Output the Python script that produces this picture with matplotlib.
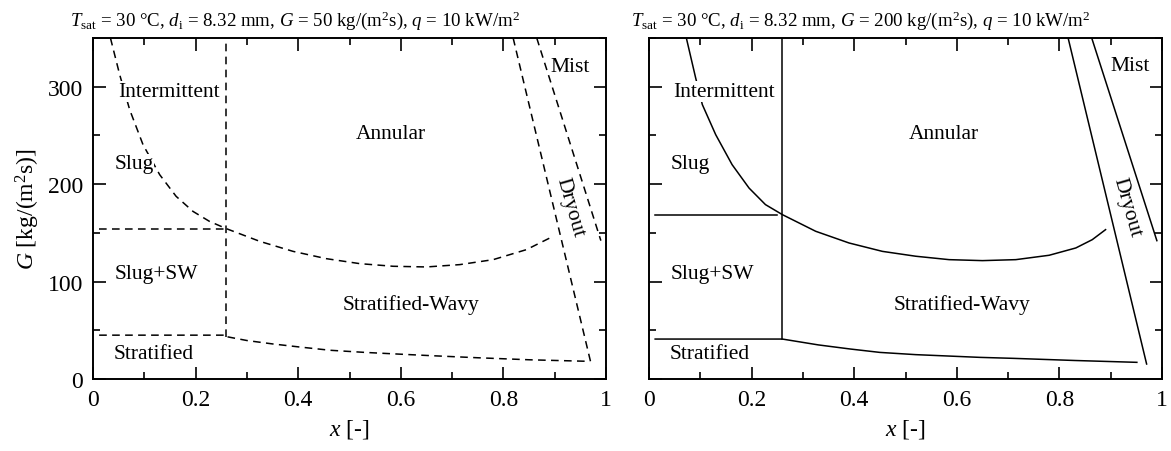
import matplotlib
matplotlib.use("Agg")
import matplotlib.pyplot as plt
from matplotlib.ticker import MultipleLocator

plt.rcParams['font.family'] = ['Liberation Serif', 'DejaVu Serif']
plt.rcParams['mathtext.fontset'] = 'custom'
plt.rcParams['mathtext.rm'] = 'Liberation Serif'
plt.rcParams['mathtext.it'] = 'Liberation Serif:italic'
plt.rcParams['mathtext.bf'] = 'Liberation Serif:bold'

# ---------------- data ----------------
titles = [r"$T_{\rm sat}$ = 30 °C, $d_{\rm i}$ = 8.32 mm, $G$ = 50 kg/(m$^2$s), $q$ = 10 kW/m$^2$",
          r"$T_{\rm sat}$ = 30 °C, $d_{\rm i}$ = 8.32 mm, $G$ = 200 kg/(m$^2$s), $q$ = 10 kW/m$^2$"]

# left panel (G = 50 kg/(m2 s)), dashed boundaries
L_ann_x = [0.034, 0.052, 0.0715, 0.0975, 0.130, 0.162, 0.195, 0.227, 0.260, 0.325, 0.390,
           0.455, 0.520, 0.585, 0.650, 0.715, 0.780, 0.845, 0.893]
L_ann_y = [350, 312.4, 276.4, 240.5, 209.7, 187.5, 172, 161.8, 154.3, 141.3, 131,
           123.5, 118.4, 115.7, 115, 117.4, 122.5, 132.8, 145.4]
L_strat_x = [0.012, 0.26, 0.26, 0.30, 0.35, 0.40, 0.462, 0.53, 0.598, 0.657, 0.75, 0.852, 0.969]
L_strat_y = [45, 45, 43.5, 39.5, 36, 33, 29.5, 27.3, 25.5, 24, 21.8, 19.7, 18.1]
L_slug_x = [0.012, 0.26]
L_slug_y = [153.5, 153.5]
L_vert_x = [0.26, 0.26]
L_vert_y = [43, 350]
L_dry_x = [0.819, 0.971]
L_dry_y = [350, 15.4]
L_mist_x = [0.865, 0.99]
L_mist_y = [350, 142]

# right panel (G = 200 kg/(m2 s)), solid boundaries
R_ann_x = [0.0728, 0.091, 0.104, 0.130, 0.162, 0.195, 0.227, 0.260, 0.325, 0.390, 0.455,
           0.520, 0.585, 0.650, 0.715, 0.780, 0.832, 0.864, 0.890]
R_ann_y = [350, 308.9, 281.6, 250.8, 220, 196, 179, 168.7, 151.6, 139.6, 131,
           126, 122.5, 121.5, 122.5, 127, 134.5, 143, 153.3]
R_strat_x = [0.012, 0.26, 0.33, 0.392, 0.45, 0.52, 0.645, 0.71, 0.83, 0.951]
R_strat_y = [41, 41, 35, 30.8, 27.3, 25, 22.2, 21.2, 19, 17.1]
R_slug_x = [0.012, 0.25]
R_slug_y = [168, 168]
R_vert_x = [0.26, 0.26]
R_vert_y = [41, 350]
R_dry_x = [0.817, 0.970]
R_dry_y = [350, 15.4]
R_mist_x = [0.863, 0.990]
R_mist_y = [350, 142]

# region labels
labels_text = ["Intermittent", "Slug", "Slug+SW", "Stratified", "Annular", "Stratified-Wavy", "Mist", "Dryout"]
L_lab_x = [0.148, 0.08, 0.124, 0.119, 0.58, 0.62, 0.93, 0.930]
L_lab_y = [295, 220.7, 107.8, 25.7, 251.5, 77, 321, 176.5]
R_lab_x = [0.146, 0.08, 0.124, 0.118, 0.574, 0.61, 0.938, 0.931]
R_lab_y = [295, 220.7, 107.8, 25.7, 251.5, 77, 322, 176.5]
lab_rot = [0, 0, 0, 0, 0, 0, 0, -74]

xticks = [0, 0.2, 0.4, 0.6, 0.8, 1]
xticklabels = ["0", "0.2", "0.4", "0.6", "0.8", "1"]
yticks = [0, 100, 200, 300]
yticklabels = ["0", "100", "200", "300"]

# ---------------- figure ----------------
fig = plt.figure(figsize=(11.71, 4.52), dpi=100)
axL = fig.add_axes([93/1171, 1-380/452, 513/1171, 341/452])
axR = fig.add_axes([649/1171, 1-380/452, 513/1171, 341/452])

def style(ax, show_ylabels):
    ax.set_xlim(0, 1)
    ax.set_ylim(0, 350)
    ax.set_xticks(xticks)
    ax.set_xticklabels(xticklabels)
    ax.set_yticks(yticks)
    if show_ylabels:
        ax.set_yticklabels(yticklabels)
    else:
        ax.set_yticklabels([])
    ax.xaxis.set_minor_locator(MultipleLocator(0.1))
    ax.yaxis.set_minor_locator(MultipleLocator(50))
    ax.tick_params(which='both', direction='in', top=True, right=True, width=1.2, labelsize=17)
    ax.tick_params(which='major', length=9, pad=7)
    ax.tick_params(which='minor', length=5)
    for s in ax.spines.values():
        s.set_linewidth(1.4)
    ax.set_xlabel(r"$x$ [-]", fontsize=17, labelpad=5)

def draw(ax, data, ls):
    kw = dict(color='black', lw=1.1, ls=ls)
    if ls == '--':
        kw['dashes'] = (5, 3.5)
    for xs, ys in data:
        ax.plot(xs, ys, **kw)

draw(axL, [(L_ann_x, L_ann_y), (L_strat_x, L_strat_y), (L_slug_x, L_slug_y),
           (L_vert_x, L_vert_y), (L_dry_x, L_dry_y), (L_mist_x, L_mist_y)], '--')
draw(axR, [(R_ann_x, R_ann_y), (R_strat_x, R_strat_y), (R_slug_x, R_slug_y),
           (R_vert_x, R_vert_y), (R_dry_x, R_dry_y), (R_mist_x, R_mist_y)], '-')

for ax, lx, ly, title, tx in [(axL, L_lab_x, L_lab_y, titles[0], 0.394),
                              (axR, R_lab_x, R_lab_y, titles[1], 0.413)]:
    for t, x, y, r in zip(labels_text, lx, ly, lab_rot):
        ax.text(x, y, t, fontsize=15.5, ha='center', va='center', rotation=r,
                bbox=dict(facecolor='white', edgecolor='none', pad=0.5))
    ax.text(tx, 1 + 13/341, title, transform=ax.transAxes, fontsize=13.6,
            ha='center', va='baseline')

style(axL, True)
style(axR, False)
axL.set_ylabel(r"$G$ [kg/(m$^2$s)]", fontsize=17, labelpad=4)

fig.savefig("out.png", dpi=100)
